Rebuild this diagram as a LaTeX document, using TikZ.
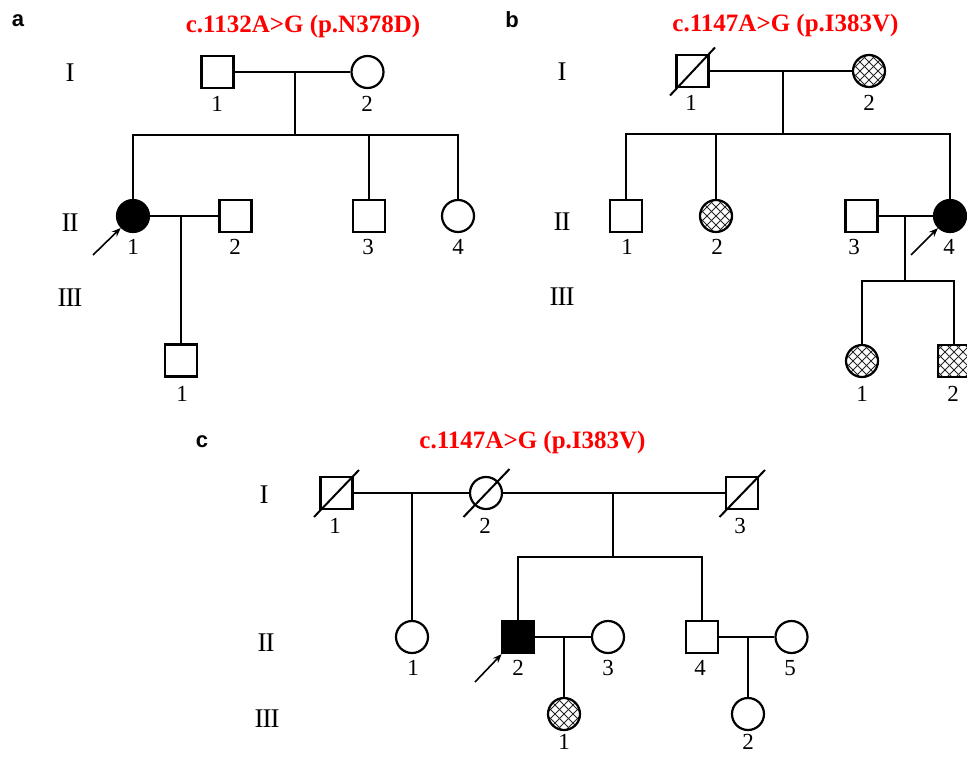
\documentclass[tikz,border=0pt]{standalone}
\usepackage{fontspec}
\setmainfont{Liberation Serif}
\newfontfamily\panelfont{Liberation Sans}
\usetikzlibrary{arrows.meta,calc}
\begin{document}
\begin{tikzpicture}[x=1pt,y=-1pt,
  lw/.style={line width=2pt},
  male/.style={draw,line width=2.2pt,rectangle,minimum size=32pt,inner sep=0pt},
  female/.style={draw,line width=2.2pt,circle,minimum size=32pt,inner sep=0pt},
  affected/.style={fill=black},
  carrier/.style={path picture={\foreach \k in {-5,...,5}{\draw[line width=0.8pt,black!85,shift={(path picture bounding box.center)}] (\k*9-25,-25) -- (\k*9+25,25) (\k*9-25,25) -- (\k*9+25,-25);}}},
  num/.style={inner sep=0pt,font=\fontsize{23}{27}\selectfont},
  gen/.style={inner sep=0pt,font=\fontsize{27}{31}\selectfont},
  ttl/.style={inner sep=0pt,anchor=base,text=red,font=\fontsize{25}{30}\selectfont\bfseries},
  panel/.style={inner sep=0pt,font=\fontsize{22}{26}\selectfont\panelfont\bfseries},
  proband/.style={-{Stealth[length=9pt,width=7pt]},line width=1.6pt},
  dslash/.style={line width=2pt}
]
\useasboundingbox (0,0) rectangle (967,756);

% ---------------- panel a ----------------
\node[panel] (pa) at (18,21) {a};
\node[ttl] (ta) at (303,32) {c.1132A>G (p.N378D)};
\node[gen] (ga1) at (70,73) {I};
\node[gen] (ga2) at (70,223) {I\kern-1pt I};
\node[gen] (ga3) at (70,298) {I\kern-1pt I\kern-1pt I};

\node[male] (a11) at (217.5,72) {};
\node[female] (a12) at (367.5,72) {};
\node[female,affected] (a21) at (133,216) {};
\node[male] (a22) at (235.5,216) {};
\node[male] (a23) at (369,216) {};
\node[female] (a24) at (458,216) {};
\node[male] (a31) at (181,360.5) {};

\coordinate (aj1) at (295,72);
\coordinate (as1) at (295,135);
\coordinate (aj2) at (181,216);
\draw[lw] (a11) -- (a12);
\draw[lw] (aj1) -- (as1);
\draw[lw] (a21) |- (as1) -| (a24);
\draw[lw] (a23) -- (a23 |- as1);
\draw[lw] (a21) -- (a22);
\draw[lw] (aj2) -- (a31);
\coordinate (pra) at (93,255);
\draw[proband] (pra) -- (a21);

\node[num] (a11n) at (217,104) {1};
\node[num] (a12n) at (367,104) {2};
\node[num] (a21n) at (133,247) {1};
\node[num] (a22n) at (235,247) {2};
\node[num] (a23n) at (368,247) {3};
\node[num] (a24n) at (458,247) {4};
\node[num] (a31n) at (182,394) {1};

% ---------------- panel b ----------------
\node[panel] (pb) at (512,20) {b};
\node[ttl] (tb) at (785.5,31.5) {c.1147A>G (p.I383V)};
\node[gen] (gb1) at (562,72) {I};
\node[gen] (gb2) at (562,222) {I\kern-1pt I};
\node[gen] (gb3) at (562,297) {I\kern-1pt I\kern-1pt I};

\node[male] (b11) at (692.5,71) {};
\node[female,carrier] (b12) at (869,71) {};
\node[male] (b21) at (626,216) {};
\node[female,carrier] (b22) at (716,216) {};
\node[male] (b23) at (861.5,216) {};
\node[female,affected] (b24) at (950,216) {};
\node[female,carrier] (b31) at (862,361) {};
\node[male,carrier] (b32) at (954,361) {};

\draw[dslash] ($(b11)+(-22.5,24.5)$) -- ($(b11)+(22.5,-23.5)$);
\coordinate (bj1) at (783,71);
\coordinate (bs1) at (783,134);
\coordinate (bj2) at (905,216);
\coordinate (bs2) at (905,281);
\draw[lw] (b11) -- (b12);
\draw[lw] (bj1) -- (bs1);
\draw[lw] (b21) |- (bs1) -| (b24);
\draw[lw] (b22) -- (b22 |- bs1);
\draw[lw] (b23) -- (b24);
\draw[lw] (bj2) -- (bs2);
\draw[lw] (b31) |- (bs2) -| (b32);
\coordinate (prb) at (911,255);
\draw[proband] (prb) -- (b24);

\node[num] (b11n) at (691,103) {1};
\node[num] (b12n) at (869,103) {2};
\node[num] (b21n) at (627,247) {1};
\node[num] (b22n) at (717,247) {2};
\node[num] (b23n) at (854,247) {3};
\node[num] (b24n) at (949,247) {4};
\node[num] (b31n) at (862,394) {1};
\node[num] (b32n) at (953,394) {2};

% ---------------- panel c ----------------
\node[panel] (pc) at (202,442) {c};
\node[ttl] (tc) at (532.5,448) {c.1147A>G (p.I383V)};
\node[gen] (gc1) at (264,495) {I};
\node[gen] (gc2) at (266,643) {I\kern-1pt I};
\node[gen] (gc3) at (267,719) {I\kern-1pt I\kern-1pt I};

\node[male] (c11) at (336.5,493) {};
\node[female] (c12) at (486,493) {};
\node[male] (c13) at (742,493) {};
\node[female] (c21) at (412,637) {};
\node[male,affected] (c22) at (518,637) {};
\node[female] (c23) at (608,637) {};
\node[male] (c24) at (702,637) {};
\node[female] (c25) at (791.5,637) {};
\node[female,carrier] (c31) at (564,714) {};
\node[female] (c32) at (748,714) {};

\draw[dslash] ($(c11)+(-22.5,24)$) -- ($(c11)+(22.5,-23)$);
\draw[dslash] ($(c12)+(-22.5,24)$) -- ($(c12)+(23.5,-24)$);
\draw[dslash] ($(c13)+(-22.5,24)$) -- ($(c13)+(23,-23)$);

\coordinate (cj1) at (412,493);
\coordinate (cj2) at (613,493);
\coordinate (cs2) at (613,557);
\coordinate (cj3) at (564,637);
\coordinate (cj4) at (748,637);
\draw[lw] (c11) -- (c12);
\draw[lw] (c12) -- (c13);
\draw[lw] (cj1) -- (c21);
\draw[lw] (cj2) -- (cs2);
\draw[lw] (c22) |- (cs2) -| (c24);
\draw[lw] (c22) -- (c23);
\draw[lw] (cj3) -- (c31);
\draw[lw] (c24) -- (c25);
\draw[lw] (cj4) -- (c32);
\coordinate (prc) at (475,682);
\draw[proband] (prc) -- (c22);

\node[num] (c11n) at (335,526) {1};
\node[num] (c12n) at (485,526) {2};
\node[num] (c13n) at (740,526) {3};
\node[num] (c21n) at (413,668) {1};
\node[num] (c22n) at (518,668) {2};
\node[num] (c23n) at (608,668) {3};
\node[num] (c24n) at (700,668) {4};
\node[num] (c25n) at (790,668) {5};
\node[num] (c31n) at (564,742) {1};
\node[num] (c32n) at (748,742) {2};
\end{tikzpicture}
\end{document}
